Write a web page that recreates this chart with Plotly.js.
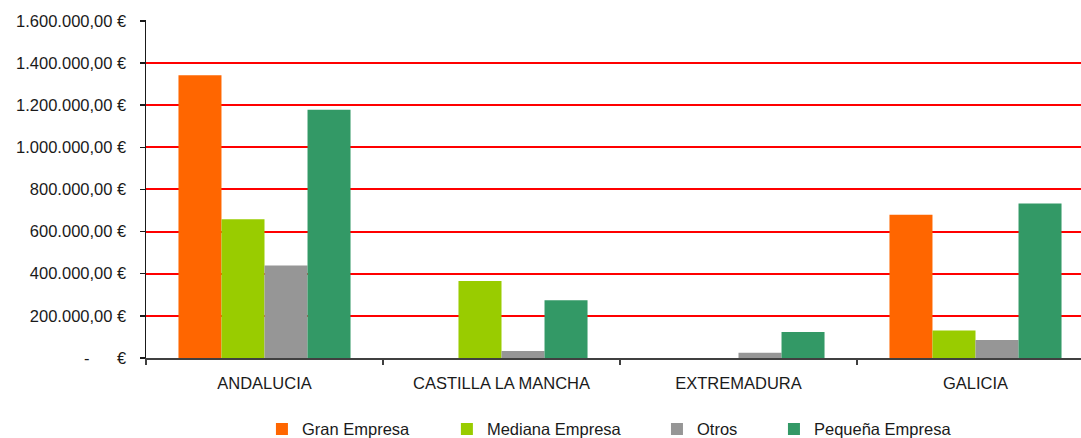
<!DOCTYPE html>
<html>
<head>
<meta charset="utf-8">
<script src="https://cdn.plot.ly/plotly-3.0.1.min.js"></script>
<style>
html, body { margin: 0; padding: 0; overflow: hidden; background: #fff; width: 1081px; height: 438px; }
#chart { width: 1100px; height: 438px; }
</style>
</head>
<body>
<div id="chart"></div>
<script>
var categories = ['ANDALUCIA', 'CASTILLA LA MANCHA', 'EXTREMADURA', 'GALICIA'];
var seriesNames = ['Gran Empresa', 'Mediana Empresa', 'Otros', 'Pequeña Empresa'];
var granEmpresa = [1342000, 0, 0, 680000];
var medianaEmpresa = [658000, 365000, 0, 131000];
var otros = [439000, 33000, 25000, 86000];
var pequenaEmpresa = [1178000, 274000, 123000, 733000];
var yTickVals = [0, 200000, 400000, 600000, 800000, 1000000, 1200000, 1400000, 1600000];
var yTickText = ['-\u00A0\u00A0\u00A0\u00A0\u00A0\u00A0€', '200.000,00 €', '400.000,00 €', '600.000,00 €', '800.000,00 €',
  '1.000.000,00 €', '1.200.000,00 €', '1.400.000,00 €', '1.600.000,00 €'];

var colors = ['#ff6600', '#99cc00', '#969696', '#339966'];
var values = [granEmpresa, medianaEmpresa, otros, pequenaEmpresa];
var legendIds = ['legend', 'legend2', 'legend3', 'legend4'];

var traces = values.map(function (v, i) {
  return {
    type: 'bar',
    x: categories,
    y: v,
    name: seriesNames[i],
    marker: { color: colors[i], line: { width: 0 } },
    legend: legendIds[i],
    hoverinfo: 'none'
  };
});

var font = { family: 'Liberation Sans, Arial, sans-serif', size: 16.5, color: '#1a1a1a' };
var legendXs = [0.1223, 0.3174, 0.539, 0.6624];
function mkLegend(x) {
  return {
    x: x, y: 0.02, xanchor: 'left', yanchor: 'middle', yref: 'container',
    orientation: 'h', bgcolor: 'rgba(0,0,0,0)', borderwidth: 0,
    font: font, itemwidth: 30
  };
}

var layout = {
  width: 1100,
  height: 438,
  margin: { l: 146, r: 6, t: 20, b: 80, pad: 0 },
  paper_bgcolor: '#ffffff',
  plot_bgcolor: '#ffffff',
  font: font,
  barmode: 'group',
  bargap: 0.274,
  bargroupgap: 0,
  showlegend: true,
  legend: mkLegend(legendXs[0]),
  legend2: mkLegend(legendXs[1]),
  legend3: mkLegend(legendXs[2]),
  legend4: mkLegend(legendXs[3]),
  xaxis: {
    type: 'category',
    showline: true,
    linecolor: '#404040',
    linewidth: 1.5,
    ticks: 'outside',
    tickson: 'boundaries',
    ticklen: 5,
    tickcolor: '#404040',
    tickwidth: 1.5,
    showgrid: false,
    zeroline: false,
    ticklabelstandoff: 10,
    tickfont: { family: 'Liberation Sans, Arial, sans-serif', size: 16.5, color: '#1a1a1a' },
    fixedrange: true
  },
  yaxis: {
    range: [0, 1604000],
    tickvals: yTickVals,
    ticktext: yTickText,
    showline: true,
    linecolor: '#1a1a1a',
    linewidth: 1.5,
    ticks: 'outside',
    ticklen: 5,
    tickcolor: '#1a1a1a',
    tickwidth: 1.5,
    showgrid: true,
    gridcolor: '#ff0000',
    gridwidth: 2,
    zeroline: false,
    ticklabelstandoff: 10,
    tickfont: { family: 'Liberation Sans, Arial, sans-serif', size: 16.5, color: '#1a1a1a' },
    fixedrange: true
  }
};

Plotly.newPlot('chart', traces, layout, { displayModeBar: false, staticPlot: true });
</script>
</body>
</html>
